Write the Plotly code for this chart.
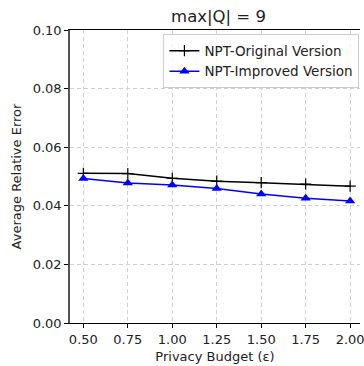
import plotly.graph_objects as go

epsilon = [0.50, 0.75, 1.00, 1.25, 1.50, 1.75, 2.00]
original = [0.0511, 0.0510, 0.0494, 0.0484, 0.0479, 0.0474, 0.0467]
improved = [0.0493, 0.0478, 0.0471, 0.0459, 0.0440, 0.0426, 0.0416]
x_ticks = [0.50, 0.75, 1.00, 1.25, 1.50, 1.75, 2.00]
y_ticks = [0.00, 0.02, 0.04, 0.06, 0.08, 0.10]

font = "DejaVu Sans"

fig = go.Figure()
fig.add_trace(go.Scatter(
    x=epsilon, y=original, mode="lines+markers", name="NPT-Original Version",
    line=dict(color="black", width=1.5),
    marker=dict(symbol="cross-thin", size=8, line=dict(color="black", width=1.2), color="black"),
))
fig.add_trace(go.Scatter(
    x=epsilon, y=improved, mode="lines+markers", name="NPT-Improved Version",
    line=dict(color="blue", width=1.5),
    marker=dict(symbol="triangle-up", size=9, color="blue"),
))

fig.update_layout(
    width=364, height=366,
    margin=dict(l=70, r=0, t=30, b=43),
    paper_bgcolor="white", plot_bgcolor="white",
    font=dict(family=font, size=13, color="#222"),
    title=dict(text="max|Q| = 9", x=(70 + 367) / 2 / 364, xanchor="center",
               y=1 - 16 / 366, yanchor="middle", font=dict(size=16.5, color="#222")),
    showlegend=True,
    legend=dict(x=0.998, y=0.985, xanchor="right", yanchor="top",
                bgcolor="rgba(255,255,255,0.8)", bordercolor="#cccccc", borderwidth=1,
                font=dict(size=13.5, color="#222"), tracegroupgap=0),
)
fig.update_xaxes(
    range=[0.425, 2.0555], tickvals=x_ticks, ticktext=[f"{v:.2f}" for v in x_ticks],
    ticklabeloverflow="allow",
    showgrid=True, gridcolor="#d0d0d0", griddash="4px,3px", gridwidth=1,
    showline=True, linecolor="black", linewidth=1, mirror=True,
    ticks="outside", ticklen=4, tickcolor="black", zeroline=False,
    title=dict(text="Privacy Budget (ε)", standoff=6, font=dict(size=13)),
)
fig.update_yaxes(
    range=[0, 0.10], tickvals=y_ticks, ticktext=[f"{v:.2f}" for v in y_ticks],
    showgrid=True, gridcolor="#d0d0d0", griddash="4px,3px", gridwidth=1,
    showline=True, linecolor="#555", linewidth=1.5,
    ticks="outside", ticklen=4, tickcolor="black", zeroline=False,
    title=dict(text="Average Relative Error", standoff=8, font=dict(size=13)),
)

fig.write_html("out.html", config={"displayModeBar": False})
with open("out.html", encoding="utf-8") as f:
    html = f.read()
html = html.replace("<head>", "<head><style>html,body{margin:0;padding:0;overflow:hidden;}</style>", 1)
with open("out.html", "w", encoding="utf-8") as f:
    f.write(html)
